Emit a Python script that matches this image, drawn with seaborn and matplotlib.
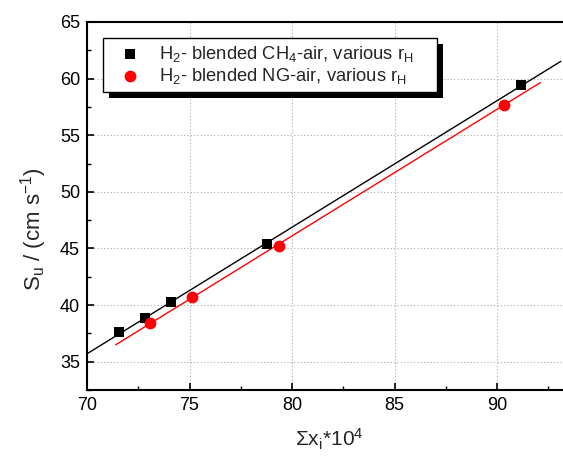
import numpy as np
import pandas as pd
import matplotlib
matplotlib.use("Agg")
import matplotlib.pyplot as plt
import seaborn as sns
from matplotlib.ticker import MultipleLocator
from matplotlib.patches import Rectangle

# ---- data ----
ch4_x = [71.58, 72.83, 74.11, 78.77, 91.17]
ch4_y = [37.60, 38.83, 40.24, 45.41, 59.41]
ng_x = [73.07, 75.10, 79.35, 90.31]
ng_y = [38.39, 40.73, 45.20, 57.70]
ch4_fit_range = [70.0, 93.1]
ng_fit_range = [71.4, 92.1]
label_ch4 = "H$_2$- blended CH$_4$-air, various r$_H$"
label_ng = "H$_2$- blended NG-air, various r$_H$"
xlabel = "Σx$_i$*10$^4$"
ylabel = "S$_u$ / (cm s$^{-1}$)"

sns.set_style("white")
plt.rcParams["font.family"] = ["Liberation Sans", "DejaVu Sans"]
plt.rcParams["mathtext.fontset"] = "custom"
plt.rcParams["mathtext.rm"] = "Liberation Sans"
plt.rcParams["mathtext.it"] = "Liberation Sans"
plt.rcParams["mathtext.default"] = "regular"

W, H = 563, 462
fig = plt.figure(figsize=(W / 100, H / 100), dpi=100)
ax_left, ax_right, ax_top, ax_bottom = 87, 569, 22, 390
ax_w, ax_h = ax_right - ax_left, ax_bottom - ax_top
ax = fig.add_axes([ax_left / W, 1 - ax_bottom / H, ax_w / W, ax_h / H])

# fits
p_ch4 = np.polyfit(ch4_x, ch4_y, 1)
p_ng = np.polyfit(ng_x, ng_y, 1)
fit_ch4 = pd.DataFrame({"x": ch4_fit_range, "y": np.polyval(p_ch4, ch4_fit_range)})
fit_ng = pd.DataFrame({"x": ng_fit_range, "y": np.polyval(p_ng, ng_fit_range)})
sns.lineplot(data=fit_ch4, x="x", y="y", color="black", lw=1.0, ax=ax, zorder=2)
sns.lineplot(data=fit_ng, x="x", y="y", color="#ff0000", lw=1.0, ax=ax, zorder=2)

df_ch4 = pd.DataFrame({"x": ch4_x, "y": ch4_y})
df_ng = pd.DataFrame({"x": ng_x, "y": ng_y})
sns.scatterplot(data=df_ch4, x="x", y="y", marker="s", s=42, color="black",
                edgecolor="black", linewidth=0, ax=ax, zorder=3, label=label_ch4)
sns.scatterplot(data=df_ng, x="x", y="y", marker="o", s=72, color="#ff0000",
                edgecolor="#ff0000", linewidth=0, ax=ax, zorder=3, label=label_ng)

ax.set_xlim(70, 93.5)
ax.set_ylim(32.5, 65)
ax.xaxis.set_major_locator(MultipleLocator(5))
ax.xaxis.set_minor_locator(MultipleLocator(2.5))
ax.yaxis.set_major_locator(MultipleLocator(5))
ax.yaxis.set_minor_locator(MultipleLocator(2.5))
ax.tick_params(which="both", direction="in", labelsize=13, colors="black")
ax.tick_params(which="major", length=5, width=1.2, pad=5)
ax.tick_params(which="minor", length=3, width=1.0)
ax.tick_params(axis="both", which="both", left=True, bottom=True)
ax.grid(True, which="major", linestyle=(0, (1, 2)), color="#aaaaaa", lw=0.8)
for side in ["left", "bottom", "top"]:
    ax.spines[side].set_visible(True)
    ax.spines[side].set_color("black")
    ax.spines[side].set_linewidth(1.5)
ax.spines["right"].set_visible(False)

ax.set_xlabel(xlabel, fontsize=15)
ax.xaxis.set_label_coords((329 - ax_left) / ax_w, -(427 - ax_bottom) / ax_h)
ax.set_ylabel(ylabel, fontsize=16)
ax.yaxis.set_label_coords(-(ax_left - 49) / ax_w, (ax_bottom - 229) / ax_h)

leg_x0, leg_top, leg_w = 103, 38, 334
leg = ax.legend(loc="upper left",
                bbox_to_anchor=(leg_x0 / W, 1 - leg_top / H - 0.1, leg_w / W, 0.1),
                bbox_transform=fig.transFigure, mode="expand", borderaxespad=0,
                frameon=True, fancybox=False, framealpha=1, edgecolor="black",
                fontsize=13.2, handletextpad=0.45, borderpad=0.3, labelspacing=0.15,
                handlelength=2.3)
leg.get_frame().set_linewidth(1.0)
leg.set_zorder(10)

fig.canvas.draw()
bb = leg.get_window_extent().transformed(fig.transFigure.inverted())
off_x, off_y = 6 / W, 6 / H
shadow = Rectangle((bb.x0 + off_x, bb.y0 - off_y), bb.width, bb.height,
                   transform=fig.transFigure, facecolor="black", edgecolor="none",
                   zorder=9, clip_on=False)
ax.add_patch(shadow)

fig.savefig("out.png", dpi=100)
